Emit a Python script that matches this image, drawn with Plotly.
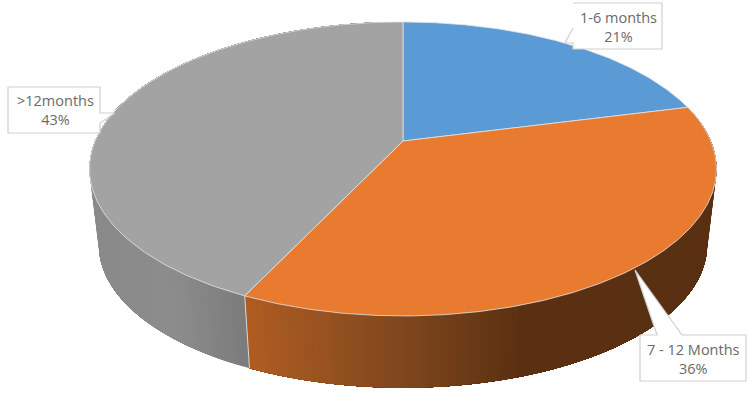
import numpy as np
import plotly.graph_objects as go

categories = ["1-6 months", "7 - 12 Months", ">12months"]
values = [21, 36, 43]
top_colors = ["#5b9bd5", "#e97b30", "#a3a3a3"]

# side wall shading, (screen x, colour)
side_stops = {
    "7 - 12 Months": [(247, (176, 93, 34)), (400, (128, 72, 30)), (520, (92, 49, 18)), (720, (90, 48, 20))],
    ">12months": [(90, (138, 138, 138)), (170, (141, 141, 141)), (250, (122, 122, 122))],
}

# callout boxes, drawn as box plus pointer
callouts = {
    "1-6 months": dict(x=[573, 662, 662, 573, 573, 565, 573], y=[3, 3, 49, 49, 43, 43, 28], tx=618, ty=27),
    "7 - 12 Months": dict(x=[640, 657, 635, 682, 746, 746, 640, 640], y=[335, 335, 270, 335, 335, 381, 381, 335], tx=693, ty=359),
    ">12months": dict(x=[8, 100, 100, 115, 100, 100, 8, 8], y=[87, 87, 113, 113, 123, 133, 133, 87], tx=55, ty=110),
}


def project(angle, lower=False):
    # circle to screen with a bit of perspective, the far side is smaller
    u, v = np.sin(angle), np.cos(angle)
    w = 1 + 0.19 * v
    if lower:
        return 403 + 0.97 * 307.8 * u / w, 218 - 0.97 * 141.7 * v / w
    return 403 + 307.8 * u / w, 141 - 141.7 * v / w


def shade(stops, x):
    xs = [s[0] for s in stops]
    rgb = [np.interp(x, xs, [s[1][i] for s in stops]) for i in range(3)]
    return "rgb(%d,%d,%d)" % tuple(rgb)


fig = go.Figure()
edges = np.cumsum([0] + values) / sum(values) * 2 * np.pi

# side walls first, the top of the pie covers whatever is behind it
for name, a0, a1 in zip(categories, edges[:-1], edges[1:]):
    if name not in side_stops:
        continue
    steps = np.linspace(a0, a1, 130)
    for s0, s1 in zip(steps[:-1], steps[1:]):
        # each strip runs to the end of the slice, the next one paints over it (no seams)
        run = np.linspace(s0, a1, 40)
        tx, ty = project(run)
        bx, by = project(run[::-1], lower=True)
        mx, _ = project((s0 + s1) / 2)
        col = shade(side_stops[name], mx)
        fig.add_trace(go.Scatter(x=list(tx) + list(bx), y=list(ty) + list(by), fill="toself",
                                 fillcolor=col, mode="none",
                                 hoverinfo="skip", showlegend=False))

# pale edge down the side where orange meets grey
ex0, ey0 = project(edges[2])
ex1, ey1 = project(edges[2], lower=True)
fig.add_trace(go.Scatter(x=[ex0, ex1], y=[ey0, ey1], mode="lines", line=dict(color="#d9d9d9", width=1),
                         hoverinfo="skip", showlegend=False))

# top slices
for name, val, col, a0, a1 in zip(categories, values, top_colors, edges[:-1], edges[1:]):
    arc = np.linspace(a0, a1, 200)
    ax, ay = project(arc)
    cx, cy = 403, 141
    fig.add_trace(go.Scatter(x=[cx] + list(ax) + [cx], y=[cy] + list(ay) + [cy], fill="toself",
                             fillcolor=col, mode="lines", line=dict(color="#e4e4e4", width=0.8),
                             name=name, text=f"{name} {val}%", hoverinfo="text", showlegend=False))

# labels
for name, val in zip(categories, values):
    c = callouts[name]
    fig.add_trace(go.Scatter(x=c["x"], y=c["y"], fill="toself", fillcolor="white", mode="lines",
                             line=dict(color="#cfcfcf", width=1.2), hoverinfo="skip", showlegend=False))
    fig.add_annotation(x=c["tx"], y=c["ty"], text=f"{name}<br>{val}%", showarrow=False, align="center",
                       font=dict(family="Open Sans", size=14.5, color="#6a6a6a"))

fig.update_layout(
    width=750,
    height=400,
    margin=dict(l=0, r=0, t=0, b=0),
    paper_bgcolor="white",
    plot_bgcolor="white",
    xaxis=dict(range=[0, 750], visible=False),
    yaxis=dict(range=[400, 0], visible=False),
)

# page has a default 8px body margin, drop it
fig.write_html("out.html", config=dict(displayModeBar=False),
               post_script="document.body.style.margin='0';document.body.style.overflow='hidden';")
